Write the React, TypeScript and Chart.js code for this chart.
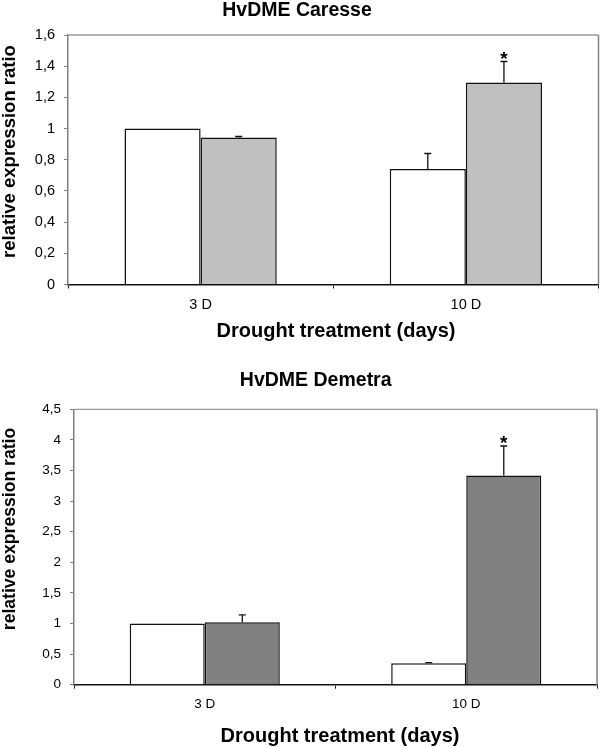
import React, { useEffect, useRef } from "react";
import { Chart, registerables } from "chart.js";

Chart.register(...registerables);

// ---------- data ----------
const categories = ["3 D", "10 D"];

const caresseTitle = "HvDME Caresse";
const caresseWhite = [1.0, 0.74];
const caresseWhiteErr = [0, 0.1];
const caresseGrey = [0.943, 1.295];
const caresseGreyErr = [0.006, 0.135];
const caresseMarks = ["", "*"];
const caresseTicks = ["0", "0,2", "0,4", "0,6", "0,8", "1", "1,2", "1,4", "1,6"];

const demetraTitle = "HvDME Demetra";
const demetraWhite = [1.0, 0.35];
const demetraWhiteErr = [0, 0.01];
const demetraGrey = [1.02, 3.42];
const demetraGreyErr = [0.12, 0.48];
const demetraMarks = ["", "*"];
const demetraTicks = ["0", "0,5", "1", "1,5", "2", "2,5", "3", "3,5", "4", "4,5"];

const yTitle = "relative expression ratio";
const xTitle = "Drought treatment (days)";

const FF = "'Liberation Sans', Arial, Helvetica, sans-serif";

type Spec = {
  title: string;
  white: number[];
  whiteErr: number[];
  grey: number[];
  greyErr: number[];
  marks: string[];
  ticks: string[];
  yMax: number;
  yStep: number;
  greyColor: string;
  canvasH: number;
  layout: { left: number; right: number; top: number; bottom: number };
  tickPadX: number;
  tickPadY: number;
  xTickSize: number;
  yTickSize: number;
  titlePos: [number, number];
  yTitlePos: [number, number];
  yTitleSize: number;
  xTitlePos: [number, number];
  topBorder: string;
  topBorderW: number;
};

function makeChart(canvas: HTMLCanvasElement, s: Spec) {
  const W = 600;
  const overlay = {
    id: "overlay",
    beforeDatasetsDraw(chart: any) {
      const { ctx, chartArea } = chart;
      ctx.save();
      ctx.strokeStyle = s.topBorder;
      ctx.lineWidth = s.topBorderW;
      ctx.beginPath();
      ctx.moveTo(chartArea.left, chartArea.top);
      ctx.lineTo(chartArea.right, chartArea.top);
      ctx.stroke();
      ctx.strokeStyle = "#808080";
      ctx.lineWidth = 1.5;
      ctx.beginPath();
      ctx.moveTo(chartArea.right, chartArea.top);
      ctx.lineTo(chartArea.right, chartArea.bottom);
      ctx.stroke();
      ctx.restore();
    },
    afterDraw(chart: any) {
      const { ctx } = chart;
      const yScale = chart.scales.y;
      ctx.save();
      // error bars
      const errs = [s.whiteErr, s.greyErr];
      const vals = [s.white, s.grey];
      ctx.strokeStyle = "#111";
      ctx.lineWidth = 1.3;
      for (let d = 0; d < 2; d++) {
        const meta = chart.getDatasetMeta(d);
        meta.data.forEach((bar: any, j: number) => {
          const e = errs[d][j];
          if (!e) return;
          const yTop = yScale.getPixelForValue(vals[d][j] + e);
          ctx.beginPath();
          ctx.moveTo(bar.x, bar.y);
          ctx.lineTo(bar.x, yTop);
          ctx.moveTo(bar.x - 3.5, yTop);
          ctx.lineTo(bar.x + 3.5, yTop);
          ctx.stroke();
          if (d === 1 && s.marks[j]) {
            ctx.fillStyle = "#000";
            ctx.font = `bold 19px ${FF}`;
            ctx.textAlign = "center";
            ctx.textBaseline = "alphabetic";
            const m = ctx.measureText(s.marks[j]);
            const asc = m.actualBoundingBoxAscent;
            const desc = m.actualBoundingBoxDescent;
            const center = yTop - 6.5;
            const base = center - (desc - asc) / 2;
            ctx.fillText(s.marks[j], bar.x, base);
          }
        });
      }
      // titles
      ctx.fillStyle = "#000";
      ctx.textAlign = "center";
      ctx.textBaseline = "middle";
      ctx.font = `bold 19.5px ${FF}`;
      ctx.fillText(s.title, s.titlePos[0], s.titlePos[1]);
      ctx.font = `bold 20px ${FF}`;
      ctx.fillText(xTitle, s.xTitlePos[0], s.xTitlePos[1]);
      ctx.save();
      ctx.translate(s.yTitlePos[0], s.yTitlePos[1]);
      ctx.rotate(-Math.PI / 2);
      ctx.font = `bold ${s.yTitleSize}px ${FF}`;
      ctx.fillText(yTitle, 0, 0);
      ctx.restore();
      ctx.restore();
    },
  };

  const L = s.layout;
  return new Chart(canvas, {
    type: "bar",
    data: {
      labels: categories,
      datasets: [
        {
          label: "white",
          data: s.white,
          backgroundColor: "#ffffff",
          borderColor: "#111",
          borderWidth: 1.5,
          barPercentage: 1,
          categoryPercentage: 0.574,
        },
        {
          label: "grey",
          data: s.grey,
          backgroundColor: s.greyColor,
          borderColor: "#111",
          borderWidth: 1.5,
          barPercentage: 1,
          categoryPercentage: 0.574,
        },
      ],
    },
    options: {
      responsive: false,
      animation: false,
      devicePixelRatio: 1,
      layout: { padding: { left: 0, right: W - L.right, top: L.top, bottom: 0 } },
      plugins: {
        legend: { display: false },
        title: { display: false },
        tooltip: { enabled: false },
      },
      scales: {
        x: {
          grid: {
            drawOnChartArea: false,
            drawTicks: true,
            tickLength: 4,
            color: "#222",
            offset: true,
          },
          border: { display: true, color: "#111", width: 1.5 },
          ticks: {
            padding: s.tickPadX,
            color: "#000",
            font: { family: FF, size: s.xTickSize },
          },
          afterFit(scale: any) {
            scale.height = s.canvasH - L.bottom;
          },
        },
        y: {
          min: 0,
          max: s.yMax,
          grid: {
            drawOnChartArea: false,
            drawTicks: true,
            tickLength: 4,
            color: "#808080",
          },
          border: { display: true, color: "#808080", width: 1.5 },
          ticks: {
            stepSize: s.yStep,
            padding: s.tickPadY,
            color: "#000",
            font: { family: FF, size: s.yTickSize },
            callback: (_v: any, i: number) => s.ticks[i],
          },
          afterFit(scale: any) {
            scale.width = L.left;
          },
        },
      },
    },
    plugins: [overlay],
  } as any);
}

const topSpec: Spec = {
  title: caresseTitle,
  white: caresseWhite,
  whiteErr: caresseWhiteErr,
  grey: caresseGrey,
  greyErr: caresseGreyErr,
  marks: caresseMarks,
  ticks: caresseTicks,
  yMax: 1.6,
  yStep: 0.2,
  greyColor: "#c0c0c0",
  canvasH: 370,
  layout: { left: 68, right: 598.5, top: 35, bottom: 284.5 },
  tickPadX: 7.8,
  tickPadY: 9,
  xTickSize: 14.5,
  yTickSize: 14.5,
  titlePos: [297, 11],
  yTitlePos: [10, 151.5],
  yTitleSize: 18.5,
  xTitlePos: [336, 331.7],
  topBorder: "#b4b4b4",
  topBorderW: 1.8,
};

const bottomSpec: Spec = {
  title: demetraTitle,
  white: demetraWhite,
  whiteErr: demetraWhiteErr,
  grey: demetraGrey,
  greyErr: demetraGreyErr,
  marks: demetraMarks,
  ticks: demetraTicks,
  yMax: 4.5,
  yStep: 0.5,
  greyColor: "#808080",
  canvasH: 377,
  layout: { left: 74, right: 597, top: 39.3, bottom: 314.7 },
  tickPadX: 7.3,
  tickPadY: 9,
  xTickSize: 13.5,
  yTickSize: 13.5,
  titlePos: [315.7, 11],
  yTitlePos: [10, 159],
  yTitleSize: 17.6,
  xTitlePos: [340, 366],
  topBorder: "#9a9a9a",
  topBorderW: 1.2,
};

export default function App() {
  const topRef = useRef<HTMLCanvasElement>(null);
  const botRef = useRef<HTMLCanvasElement>(null);

  useEffect(() => {
    const c1 = makeChart(topRef.current as HTMLCanvasElement, topSpec);
    const c2 = makeChart(botRef.current as HTMLCanvasElement, bottomSpec);
    return () => {
      c1.destroy();
      c2.destroy();
    };
  }, []);

  return (
    <div
      style={{
        position: "absolute",
        left: 0,
        top: 0,
        width: 600,
        height: 747,
        background: "#fff",
        overflow: "hidden",
      }}
    >
      <canvas
        ref={topRef}
        width={600}
        height={370}
        style={{ position: "absolute", left: 0, top: 0, width: 600, height: 370 }}
      />
      <canvas
        ref={botRef}
        width={600}
        height={377}
        style={{ position: "absolute", left: 0, top: 370, width: 600, height: 377 }}
      />
    </div>
  );
}
